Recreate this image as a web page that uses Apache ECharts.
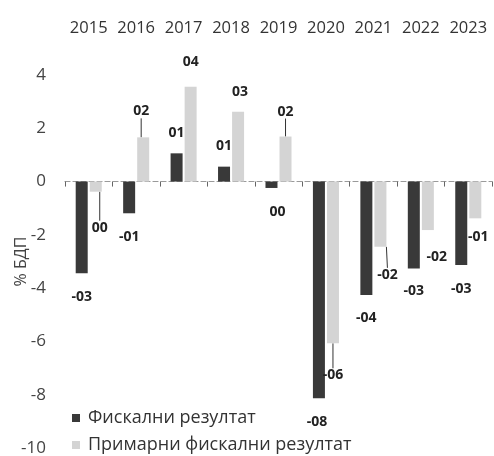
<!DOCTYPE html>
<html>
<head>
<meta charset="utf-8">
<script src="https://cdn.jsdelivr.net/npm/echarts@6/dist/echarts.min.js"></script>
<style>
  html, body { margin: 0; padding: 0; background: #fff; }
  #chart { width: 494px; height: 456px; }
</style>
</head>
<body>
<div id="chart"></div>
<script>
// Fiscal balance, % of GDP
const years = ['2015', '2016', '2017', '2018', '2019', '2020', '2021', '2022', '2023'];
const fiscalBalance = [-3.44, -1.19, 1.06, 0.56, -0.24, -8.13, -4.26, -3.26, -3.13];
const primaryBalance = [-0.38, 1.66, 3.56, 2.62, 1.69, -6.07, -2.45, -1.82, -1.38];
const yTicks = { min: -10, max: 4, step: 2 };

// label nudges [dx, dy] and leader-line flags, per year
const fiscalNudge = [[0, 12], [0, 12], [0, -8], [0, -9], [6, 12], [-2, 12], [0, 11], [0, 11], [0, 12]];
const primaryNudge = [[4, 24], [-2, -14], [0, -13], [2, -8], [0, -13], [0, 20], [7, 16], [9, 15], [3, 7]];
const primaryLeader = [true, true, false, false, true, true, true, false, false];

const FONT = '"Open Sans", "Noto Sans", sans-serif';
const DARK = '#393939';
const LIGHT = '#d4d4d4';

function fmt(v) {
  const n = Math.round(v);
  const s = String(Math.abs(n)).padStart(2, '0');
  return (n < 0 ? '-' : '') + s;
}

function buildData(values, leaders) {
  return values.map((v, i) => ({
    value: v,
    label: { position: v < 0 ? 'bottom' : 'top' },
    labelLine: { show: !!(leaders && leaders[i]) }
  }));
}

const labelStyle = {
  show: true,
  distance: 5,
  fontFamily: FONT,
  fontSize: 14,
  fontWeight: 'bold',
  color: '#222',
  formatter: p => fmt(p.value)
};

const chart = echarts.init(document.getElementById('chart'), null, { renderer: 'canvas' });

chart.setOption({
  backgroundColor: '#fff',
  animation: false,
  textStyle: { fontFamily: FONT },
  grid: { left: 65, right: 2, top: 75, bottom: 8, containLabel: false, outerBoundsMode: 'none' },
  legend: {
    orient: 'vertical',
    left: 72,
    top: 408,
    padding: 0,
    icon: 'rect',
    itemWidth: 8,
    itemHeight: 8,
    itemGap: 7,
    textStyle: { fontFamily: FONT, fontSize: 18, lineHeight: 20, color: '#333', padding: [0, 0, 0, 3] },
    data: ['Фискални резултат', 'Примарни фискални резултат']
  },
  xAxis: [
    {
      type: 'category',
      data: years,
      position: 'top',
      axisLine: { show: false, onZero: false },
      axisTick: { show: false },
      axisLabel: { interval: 0, margin: 38, fontFamily: FONT, fontSize: 16.5, color: '#333' }
    },
    {
      type: 'category',
      data: years,
      position: 'bottom',
      axisLine: { show: true, onZero: true, lineStyle: { color: '#9a9a9a', width: 1.2, type: [5, 3] } },
      axisTick: { show: true, length: 5, lineStyle: { color: '#666' } },
      axisLabel: { show: false }
    }
  ],
  yAxis: {
    type: 'value',
    min: yTicks.min,
    max: yTicks.max,
    interval: yTicks.step,
    name: '% БДП',
    nameLocation: 'middle',
    nameGap: 36,
    nameMoveOverlap: false,
    nameTextStyle: { fontFamily: FONT, fontSize: 16, color: '#444' },
    axisLine: { show: false },
    axisTick: { show: false },
    splitLine: { show: false },
    axisLabel: { margin: 19, fontFamily: FONT, fontSize: 17, color: '#444' }
  },
  series: [
    {
      name: 'Фискални резултат',
      type: 'bar',
      xAxisIndex: 0,
      barWidth: 12,
      barGap: '17%',
      itemStyle: { color: DARK },
      data: buildData(fiscalBalance, null),
      label: labelStyle,
      labelLayout: p => ({ dx: fiscalNudge[p.dataIndex][0], dy: fiscalNudge[p.dataIndex][1] })
    },
    {
      name: 'Примарни фискални резултат',
      type: 'bar',
      xAxisIndex: 0,
      barWidth: 12,
      barGap: '17%',
      itemStyle: { color: LIGHT },
      data: buildData(primaryBalance, primaryLeader),
      label: labelStyle,
      labelLine: { show: false, lineStyle: { color: '#333', width: 1 } },
      labelLayout: p => ({ dx: primaryNudge[p.dataIndex][0], dy: primaryNudge[p.dataIndex][1] })
    }
  ]
});
</script>
</body>
</html>
